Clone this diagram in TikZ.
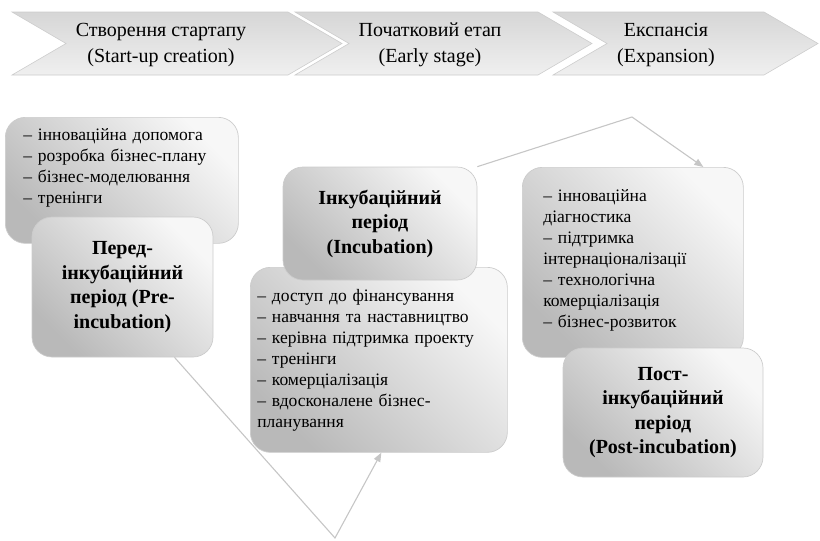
\documentclass[tikz,border=0pt]{standalone}
\usepackage{fontspec}
\setmainfont{Liberation Serif}
\usetikzlibrary{arrows.meta}
\tikzset{
  chev/.style={draw=gray!40, line width=0.6pt, top color=gray!32, bottom color=gray!12},
  chevtext/.style={align=center, font=\fontsize{20}{26}\selectfont},
  box/.style={draw=gray!40, line width=0.7pt, rounded corners=20pt,
    top color=gray!6, bottom color=gray!55, shading angle=-45},
  listbox/.style={box, anchor=north west, align=left, text height=13pt,
    font=\fontsize{17.5}{21}\selectfont},
  titlebox/.style={box, align=center, font=\bfseries\fontsize{20}{24.5}\selectfont},
  link/.style={draw=gray!45, line width=1.1pt},
}

\begin{document}
\begin{tikzpicture}[x=1pt, y=-1pt]
  \useasboundingbox (0,0) rectangle (820,541);

  \draw[chev] (12,12) -- (288,12) -- (342,43.5) -- (288,75) -- (12,75) -- (66,43.5) -- cycle;
  \draw[chev] (295,12) -- (538,12) -- (592,43.5) -- (538,75) -- (295,75) -- (349,43.5) -- cycle;
  \draw[chev] (553,12) -- (764,12) -- (818,43.5) -- (764,75) -- (553,75) -- (607,43.5) -- cycle;
  \node[chevtext] (stageStart) at (161,45) {Створення стартапу\\(Start-up creation)};
  \node[chevtext] (stageEarly) at (430,45) {Початковий етап\\(Early stage)};
  \node[chevtext] (stageExp) at (666,45) {Експансія\\(Expansion)};

  \node[listbox, inner xsep=18pt, inner ysep=10pt, text width=197pt, text depth=93pt] (preList) at (5,117)
    {-- інноваційна допомога\\-- розробка бізнес-плану\\-- бізнес-моделювання\\-- тренінги};
  \node[titlebox, minimum width=181pt, minimum height=140pt] (preTitle) at (122.5,287)
    {Перед-\\інкубаційний\\період (Pre-\\incubation)};

  \node[listbox, inner xsep=7pt, inner ysep=21pt, text width=243pt, text depth=130pt] (incList) at (250,267)
    {-- доступ до фінансування\\-- навчання та наставництво\\-- керівна підтримка проекту\\-- тренінги\\-- комерціалізація\\-- вдосконалене бізнес-\\планування};
  \node[titlebox, minimum width=194pt, minimum height=113pt] (incTitle) at (380,223.5)
    {Інкубаційний\\період\\(Incubation)};

  \node[listbox, inner xsep=21pt, inner ysep=21pt, text width=179pt, text depth=135pt] (postList) at (522,167)
    {-- інноваційна\\діагностика\\-- підтримка\\інтернаціоналізації\\-- технологічна\\комерціалізація\\-- бізнес-розвиток};
  \node[titlebox, minimum width=200pt, minimum height=129pt] (postTitle) at (663,412.5)
    {Пост-\\інкубаційний\\період\\(Post-incubation)};

  \coordinate (lowBend) at (335,538);
  \coordinate (highBend) at (632,117);
  \draw[link, -{Triangle[length=9pt, width=7pt]}] ([xshift=52pt]preTitle.south) -- (lowBend) -- ([xshift=2.5pt]incList.south);
  \draw[link, -{Triangle[length=9pt, width=7pt]}] (incTitle.north east) -- (highBend) -- ([xshift=70.5pt]postList.north);
\end{tikzpicture}
\end{document}
